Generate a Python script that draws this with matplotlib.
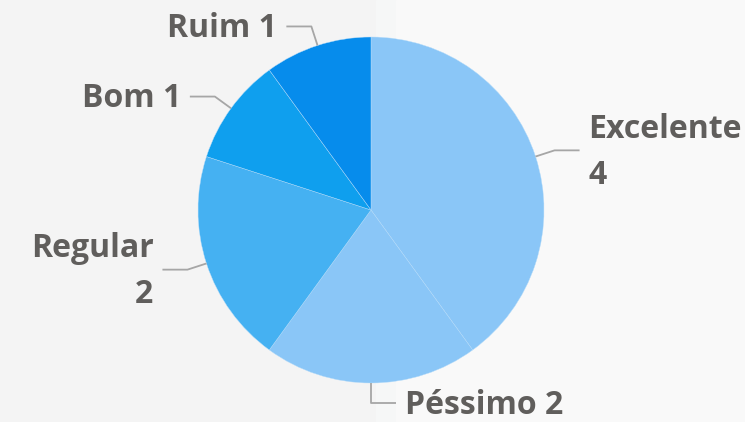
import numpy as np
import matplotlib.pyplot as plt
from matplotlib.patches import Rectangle

# data
labels = ["Excelente", "Péssimo", "Regular", "Bom", "Ruim"]
values = [4, 2, 2, 1, 1]
colors = ["#8AC6F7", "#8AC6F7", "#45B1F2", "#0F9FEE", "#068CEC"]
label_text = ["Excelente\n4", "Péssimo 2", "Regular\n2", "Bom 1", "Ruim 1"]

W, H = 745, 422
cx, cy, r = 371, H - 210, 173

fig = plt.figure(figsize=(W / 100, H / 100), dpi=100)
ax = fig.add_axes([0, 0, 1, 1])

# background: light grey left, slightly lighter right
ax.add_patch(Rectangle((0, 0), 376, H, color="#F4F4F4", zorder=0))
ax.add_patch(Rectangle((376, 0), 20, H, color="#F6F7F7", zorder=0))
ax.add_patch(Rectangle((396, 0), W - 396, H, color="#F9F9F9", zorder=0))

wedges, _ = ax.pie(values, colors=colors, startangle=90, counterclock=False,
                   center=(cx, cy), radius=r,
                   wedgeprops=dict(linewidth=0.3, edgecolor="#b5dcfa"))
for w in wedges:
    w.set_zorder(2)

ax.set_xlim(0, W)
ax.set_ylim(0, H)
ax.set_aspect("equal")
ax.axis("off")

txt_color = "#605E5C"
line_color = "#A6A6A6"
for w, txt in zip(wedges, label_text):
    mid = np.deg2rad((w.theta1 + w.theta2) / 2)
    dx, dy = np.cos(mid), np.sin(mid)
    p0 = (cx + r * dx, cy + r * dy)
    p1 = (cx + (r + 20) * dx, cy + (r + 20) * dy)
    side = 1 if dx >= -0.01 else -1
    p2 = (p1[0] + side * 25, p1[1])
    ax.plot([p0[0], p1[0], p2[0]], [p0[1], p1[1], p2[1]],
            color=line_color, lw=1.3, zorder=3, solid_capstyle="butt")
    ha = "left" if side > 0 else "right"
    ax.text(p2[0] + side * 9, p2[1] - 2, txt, ha=ha, va="center",
            multialignment=ha, fontsize=23, fontweight="bold",
            family="Open Sans", color=txt_color, linespacing=1.5, zorder=4)

fig.savefig("out.png", dpi=100)
